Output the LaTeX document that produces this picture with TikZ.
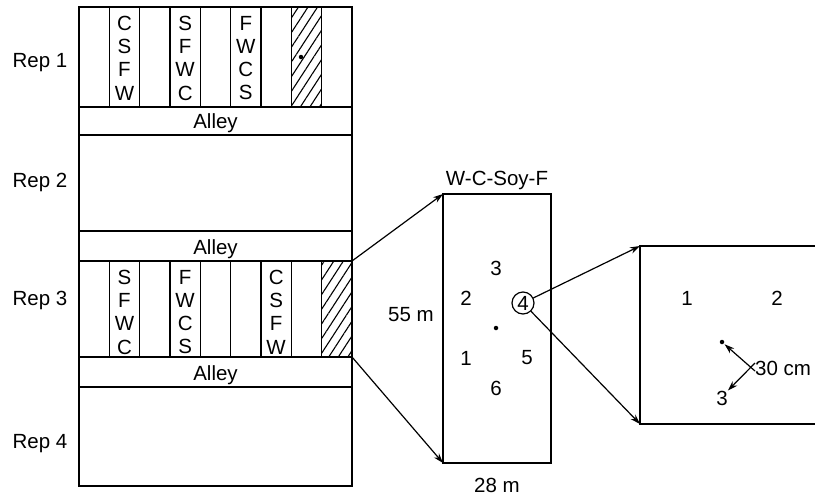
\documentclass[tikz,border=0pt]{standalone}
\usepackage{fontspec}
\setmainfont{Liberation Sans}
\usetikzlibrary{arrows.meta,patterns.meta}
\begin{document}
\begin{tikzpicture}[x=1pt,y=-1pt,
  txt/.style={inner sep=0pt,font=\fontsize{20.5}{23.3}\selectfont},
  stack/.style={txt,align=center},
  box/.style={draw,line width=1.3pt},
  thin/.style={draw,line width=1.2pt},
  hatch/.style={box,pattern={Lines[angle=57,distance=8pt,line width=1.1pt]}},
  arr/.style={line width=1.2pt,-{Stealth[length=10pt,width=6.5pt]}},
  dotn/.style={circle,fill,inner sep=0pt,minimum size=4.5pt}]
\useasboundingbox (0,0) rectangle (815,496);
% main field
\def\cw{30.333}
\draw[box] (79,7) rectangle (352,486);
\draw[box] (79,107) -- (352,107);
\draw[box] (79,135) -- (352,135);
\draw[box] (79,231) -- (352,231);
\draw[box] (79,261) -- (352,261);
\draw[box] (79,357) -- (352,357);
\draw[box] (79,387) -- (352,387);
% column lines rep 1 and rep 3
\foreach \k in {1,...,8} {
  \draw[thin] ({79+\k*\cw},7) -- ({79+\k*\cw},107);
  \draw[thin] ({79+\k*\cw},261) -- ({79+\k*\cw},357);
}
% hatched plots
\draw[hatch] ({79+7*\cw},7) rectangle ({79+8*\cw},107);
\node[dotn] (d1) at (301,57) {};
\draw[hatch] ({79+8*\cw},261) rectangle (352,357);
\coordinate (h3t) at (352,261);
\coordinate (h3b) at (352,357);
% labels
\node[txt,anchor=base] (r1) at (40,67) {Rep 1};
\node[txt,anchor=base] (r2) at (40,187) {Rep 2};
\node[txt,anchor=base] (r3) at (40,305) {Rep 3};
\node[txt,anchor=base] (r4) at (40,448) {Rep 4};
\node[txt,anchor=base] (a1) at (215.5,128) {Alley};
\node[txt,anchor=base] (a2) at (215.5,254) {Alley};
\node[txt,anchor=base] (a3) at (215.5,380) {Alley};
% rep 1 columns
\node[stack] (c12) at ({79+1.5*\cw},58) {C\\S\\F\\W};
\node[stack] (c14) at ({79+3.5*\cw},58) {S\\F\\W\\C};
\node[stack] (c16) at ({79+5.5*\cw},58) {F\\W\\C\\S};
% rep 3 columns
\node[stack] (c32) at ({79+1.5*\cw},312) {S\\F\\W\\C};
\node[stack] (c34) at ({79+3.5*\cw},312) {F\\W\\C\\S};
\node[stack] (c37) at ({79+6.5*\cw},312) {C\\S\\F\\W};
% middle plot
\draw[box] (443,194) rectangle (551,463);
\coordinate (mnw) at (443,194);
\coordinate (msw) at (443,463);
\node[txt,anchor=base] (mt) at (497,185) {W-C-Soy-F};
\node[txt] (m55) at (411,315) {55 m};
\node[txt,anchor=base] (m28) at (497,492) {28 m};
\node[txt] (n3) at (496,268) {3};
\node[txt] (n2) at (466,298) {2};
\node[txt,draw,circle,line width=1.2pt,minimum size=22pt] (n4) at (523,303) {4};
\node[dotn] (md) at (496,328) {};
\node[txt] (n1) at (466,358) {1};
\node[txt] (n5) at (527,358) {5};
\node[txt] (n6) at (496,388) {6};
% right plot
\draw[box] (830,246) -- (640,246) -- (640,424) -- (830,424);
\coordinate (rnw) at (640,246);
\coordinate (rsw) at (640,424);
\node[txt] (p1) at (687,298) {1};
\node[txt] (p2) at (777,298) {2};
\node[dotn] (rd) at (722,342) {};
\node[txt] (p3) at (722,398) {3};
\node[txt,anchor=west] (cm) at (755,368) {30 cm};
% connectors
\draw[arr] (h3t) -- (mnw);
\draw[arr] (h3b) -- (msw);
\draw[arr] (n4) -- (rnw);
\draw[arr] (n4) -- (rsw);
\draw[arr,shorten >=1pt] ([yshift=-3pt]cm.west) -- (rd);
\draw[arr] ([yshift=5pt]cm.west) -- (p3.north east);
\end{tikzpicture}
\end{document}
